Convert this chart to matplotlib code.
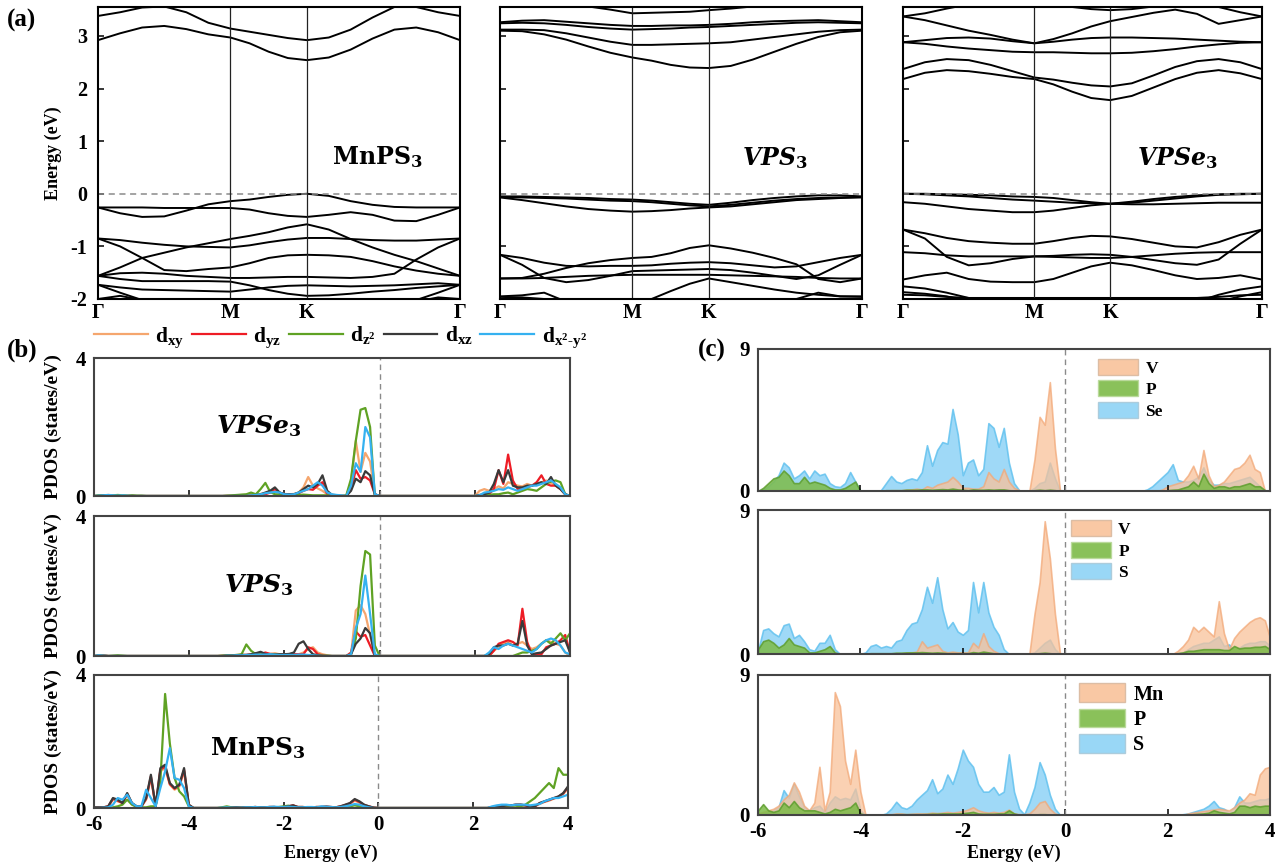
import numpy as np
import matplotlib
matplotlib.use("Agg")
import matplotlib.pyplot as plt
from matplotlib.patches import Patch

plt.rcParams.update({
    "font.family": ["Liberation Serif", "DejaVu Serif"],
    "font.weight": "bold",
    "axes.unicode_minus": False,
    "mathtext.fontset": "custom",
    "mathtext.rm": "DejaVu Serif:bold",
    "mathtext.it": "DejaVu Serif:italic:bold",
    "mathtext.bf": "Liberation Serif:bold",
})

# ---------------- band structures (a) ----------------
KPATH_LABELS = ["Γ", "M", "K", "Γ"]
SEG_LEN = [0.577, 0.333, 0.667]      # Γ-M, M-K, K-Γ lengths
SEG_N = [6, 4, 7]                    # sampling intervals per segment

MNPS3_BANDS = [
    [3.38, 3.45, 3.54, 3.56, 3.45, 3.25, 3.14, 3.08, 3.02, 2.96, 2.92, 2.97, 3.12, 3.35, 3.55, 3.55, 3.45, 3.38],
    [2.92, 3.05, 3.16, 3.19, 3.13, 3.03, 2.97, 2.86, 2.70, 2.58, 2.54, 2.59, 2.74, 2.95, 3.12, 3.16, 3.07, 2.92],
    [-0.26, -0.37, -0.44, -0.43, -0.32, -0.20, -0.14, -0.11, -0.06, -0.02, 0.00, -0.04, -0.14, -0.21, -0.25, -0.26, -0.26, -0.26],
    [-0.26, -0.26, -0.26, -0.27, -0.27, -0.27, -0.27, -0.30, -0.37, -0.42, -0.44, -0.40, -0.35, -0.40, -0.51, -0.52, -0.40, -0.26],
    [-1.56, -1.40, -1.22, -1.12, -1.02, -0.94, -0.86, -0.80, -0.73, -0.64, -0.58, -0.68, -0.86, -1.02, -1.16, -1.28, -1.42, -1.56],
    [-0.85, -0.88, -0.93, -0.97, -1.00, -1.01, -1.02, -0.98, -0.92, -0.87, -0.84, -0.84, -0.86, -0.88, -0.89, -0.89, -0.87, -0.85],
    [-0.85, -1.00, -1.22, -1.45, -1.47, -1.43, -1.40, -1.32, -1.22, -1.17, -1.16, -1.17, -1.20, -1.28, -1.38, -1.46, -1.52, -1.56],
    [-1.56, -1.51, -1.50, -1.52, -1.56, -1.58, -1.60, -1.60, -1.59, -1.58, -1.58, -1.59, -1.60, -1.58, -1.52, -1.25, -1.02, -0.85],
    [-1.56, -1.62, -1.66, -1.66, -1.66, -1.66, -1.67, -1.74, -1.83, -1.90, -1.94, -1.93, -1.90, -1.86, -1.83, -1.79, -1.76, -1.73],
    [-1.73, -1.78, -1.82, -1.83, -1.84, -1.85, -1.86, -1.82, -1.78, -1.75, -1.74, -1.75, -1.76, -1.75, -1.74, -1.72, -1.70, -1.73],
    [-1.73, -1.88, -2.02, -2.10, -2.10, -2.10, -2.10, -2.10, -2.10, -2.10, -2.10, -2.10, -2.10, -2.10, -2.10, -2.02, -1.88, -1.73],
    [-2.00, -1.94, -2.02, -2.10, -2.10, -2.10, -2.10, -2.10, -2.10, -2.10, -2.10, -2.10, -2.10, -2.10, -2.10, -2.05, -1.97, -2.00],
]

VPS3_BANDS = [
    [3.60, 3.60, 3.60, 3.60, 3.56, 3.50, 3.43, 3.44, 3.45, 3.46, 3.49, 3.52, 3.56, 3.60, 3.60, 3.60, 3.60, 3.60],
    [3.26, 3.29, 3.30, 3.27, 3.24, 3.21, 3.19, 3.19, 3.20, 3.20, 3.21, 3.23, 3.26, 3.28, 3.29, 3.30, 3.28, 3.26],
    [3.24, 3.25, 3.24, 3.21, 3.17, 3.14, 3.12, 3.13, 3.14, 3.16, 3.17, 3.19, 3.21, 3.23, 3.25, 3.26, 3.25, 3.24],
    [3.12, 3.12, 3.11, 3.05, 2.97, 2.89, 2.83, 2.83, 2.84, 2.85, 2.86, 2.88, 2.93, 2.98, 3.03, 3.08, 3.11, 3.12],
    [3.10, 3.09, 3.03, 2.93, 2.80, 2.68, 2.59, 2.53, 2.45, 2.40, 2.39, 2.43, 2.55, 2.70, 2.85, 2.98, 3.07, 3.10],
    [-0.05, -0.05, -0.06, -0.07, -0.08, -0.10, -0.11, -0.13, -0.16, -0.19, -0.21, -0.17, -0.12, -0.08, -0.05, -0.03, -0.03, -0.05],
    [-0.06, -0.07, -0.08, -0.09, -0.11, -0.13, -0.14, -0.16, -0.19, -0.22, -0.24, -0.21, -0.17, -0.13, -0.10, -0.08, -0.07, -0.06],
    [-0.07, -0.12, -0.18, -0.24, -0.29, -0.32, -0.34, -0.33, -0.31, -0.28, -0.26, -0.24, -0.20, -0.16, -0.12, -0.10, -0.08, -0.07],
    [-1.61, -1.61, -1.60, -1.58, -1.56, -1.55, -1.54, -1.54, -1.54, -1.54, -1.54, -1.55, -1.56, -1.57, -1.58, -1.60, -1.61, -1.61],
    [-1.61, -1.60, -1.52, -1.41, -1.32, -1.26, -1.22, -1.20, -1.13, -1.03, -0.98, -1.04, -1.12, -1.22, -1.34, -1.62, -1.68, -1.61],
    [-1.16, -1.35, -1.60, -1.68, -1.64, -1.56, -1.47, -1.46, -1.45, -1.44, -1.43, -1.45, -1.50, -1.56, -1.62, -1.55, -1.35, -1.16],
    [-1.16, -1.22, -1.31, -1.37, -1.38, -1.37, -1.37, -1.36, -1.33, -1.31, -1.30, -1.32, -1.36, -1.40, -1.38, -1.30, -1.22, -1.16],
    [-1.95, -1.93, -1.88, -2.05, -2.20, -2.30, -2.20, -2.00, -1.85, -1.71, -1.61, -1.68, -1.75, -1.82, -1.88, -1.92, -1.95, -1.95],
    [-1.96, -1.97, -2.00, -2.10, -2.20, -2.20, -2.20, -2.20, -2.20, -2.20, -2.20, -2.20, -2.20, -2.10, -2.00, -1.88, -1.95, -1.96],
]

VPSE3_BANDS = [
    [3.37, 3.43, 3.52, 3.60, 3.60, 3.60, 3.60, 3.60, 3.55, 3.51, 3.49, 3.51, 3.56, 3.60, 3.60, 3.55, 3.45, 3.37],
    [3.37, 3.30, 3.20, 3.10, 3.02, 2.93, 2.86, 2.94, 3.05, 3.18, 3.28, 3.36, 3.44, 3.50, 3.42, 3.23, 3.30, 3.37],
    [2.88, 2.92, 2.96, 2.97, 2.95, 2.90, 2.86, 2.89, 2.93, 2.96, 2.97, 2.97, 2.96, 2.95, 2.93, 2.91, 2.89, 2.88],
    [2.88, 2.85, 2.80, 2.76, 2.73, 2.70, 2.69, 2.69, 2.68, 2.67, 2.67, 2.68, 2.71, 2.75, 2.80, 2.84, 2.87, 2.88],
    [2.37, 2.50, 2.56, 2.54, 2.45, 2.33, 2.21, 2.17, 2.11, 2.06, 2.04, 2.10, 2.25, 2.41, 2.52, 2.56, 2.50, 2.37],
    [2.18, 2.30, 2.35, 2.33, 2.28, 2.22, 2.18, 2.08, 1.94, 1.82, 1.78, 1.86, 2.02, 2.18, 2.30, 2.35, 2.29, 2.18],
    [0.00, 0.00, -0.01, -0.02, -0.03, -0.05, -0.06, -0.08, -0.12, -0.16, -0.19, -0.15, -0.10, -0.06, -0.03, -0.01, 0.00, 0.00],
    [0.00, -0.01, -0.03, -0.05, -0.08, -0.11, -0.13, -0.15, -0.17, -0.18, -0.19, -0.17, -0.13, -0.09, -0.05, -0.02, -0.01, 0.00],
    [-0.16, -0.19, -0.24, -0.29, -0.32, -0.35, -0.35, -0.32, -0.27, -0.22, -0.19, -0.20, -0.20, -0.19, -0.18, -0.17, -0.17, -0.17],
    [-0.68, -0.75, -0.84, -0.90, -0.93, -0.95, -0.95, -0.90, -0.84, -0.80, -0.81, -0.86, -0.93, -1.00, -1.02, -0.92, -0.78, -0.68],
    [-0.68, -0.85, -1.20, -1.36, -1.32, -1.24, -1.19, -1.18, -1.16, -1.15, -1.16, -1.20, -1.26, -1.32, -1.35, -1.25, -0.95, -0.68],
    [-1.11, -1.13, -1.17, -1.19, -1.19, -1.19, -1.19, -1.20, -1.21, -1.22, -1.22, -1.20, -1.17, -1.14, -1.12, -1.11, -1.11, -1.11],
    [-1.63, -1.55, -1.50, -1.62, -1.67, -1.68, -1.68, -1.62, -1.50, -1.38, -1.31, -1.36, -1.45, -1.55, -1.62, -1.60, -1.55, -1.63],
    [-1.76, -1.80, -1.88, -1.98, -2.10, -2.10, -2.10, -2.10, -2.10, -2.10, -2.10, -2.10, -2.10, -2.10, -2.05, -1.92, -1.82, -1.76],
    [-1.87, -1.90, -1.95, -2.05, -2.10, -2.10, -2.10, -2.10, -2.10, -2.10, -2.10, -2.10, -2.10, -2.10, -2.10, -2.05, -1.95, -1.87],
    [-1.92, -1.93, -1.96, -1.98, -1.98, -1.98, -1.98, -1.98, -1.98, -1.98, -1.98, -1.98, -1.98, -1.98, -1.98, -1.96, -1.93, -1.92],
]

# ---------------- PDOS (b): V / Mn d orbitals, energy -6..4 eV step 0.1 ----------------
B1_DXY = [0.00, 0.01, 0.02, 0.03, 0.02, 0.01, 0.02, 0.01, 0.01, 0.00,
          0, 0, 0, 0, 0, 0, 0, 0, 0, 0,
          0, 0, 0, 0, 0, 0, 0, 0, 0.01, 0.01,
          0.02, 0.03, 0.03, 0.05, 0.04, 0.06, 0.08, 0.10, 0.12, 0.08,
          0.06, 0.05, 0.06, 0.10, 0.25, 0.55, 0.30, 0.22, 0.15, 0.05,
          0.04, 0.02, 0.01, 0.00, 0.40, 1.60, 0.70, 1.25, 1.00, 0.05,
          0, 0, 0, 0, 0, 0, 0, 0, 0, 0,
          0, 0, 0, 0, 0, 0, 0, 0, 0, 0,
          0.00, 0.15, 0.20, 0.15, 0.20, 0.28, 0.22, 0.40, 0.35, 0.30,
          0.28, 0.35, 0.30, 0.35, 0.40, 0.45, 0.38, 0.30, 0.20, 0.05,
          0.00]
B1_DYZ = [0.00, 0.00, 0.01, 0.02, 0.01, 0, 0, 0, 0, 0,
          0, 0, 0, 0, 0, 0, 0, 0, 0, 0,
          0, 0, 0, 0, 0, 0, 0, 0, 0, 0,
          0.00, 0.00, 0.00, 0.01, 0.02, 0.03, 0.05, 0.10, 0.20, 0.10,
          0.05, 0.05, 0.05, 0.08, 0.15, 0.20, 0.18, 0.30, 0.40, 0.05,
          0.02, 0.00, 0.00, 0.00, 0.20, 0.75, 0.50, 0.55, 0.45, 0.05,
          0, 0, 0, 0, 0, 0, 0, 0, 0, 0,
          0, 0, 0, 0, 0, 0, 0, 0, 0, 0,
          0.00, 0.00, 0.03, 0.05, 0.20, 0.75, 0.35, 1.20, 0.45, 0.20,
          0.20, 0.25, 0.30, 0.40, 0.60, 0.35, 0.30, 0.30, 0.20, 0.05,
          0.00]
B1_DZ2 = [0.00, 0.02, 0.02, 0.01, 0.02, 0.03, 0.02, 0.01, 0.02, 0.01,
          0.01, 0, 0, 0, 0, 0, 0, 0, 0, 0,
          0, 0, 0, 0, 0, 0, 0, 0, 0.01, 0.02,
          0.03, 0.04, 0.05, 0.10, 0.05, 0.20, 0.38, 0.12, 0.05, 0.04,
          0.03, 0.02, 0.02, 0.03, 0.04, 0.03, 0.02, 0.02, 0.02, 0.02,
          0.01, 0.00, 0.00, 0.02, 0.50, 1.60, 2.50, 2.55, 2.00, 0.00,
          0, 0, 0, 0, 0, 0, 0, 0, 0, 0,
          0, 0, 0, 0, 0, 0, 0, 0, 0, 0,
          0.00, 0.00, 0.02, 0.03, 0.05, 0.05, 0.08, 0.10, 0.05, 0.10,
          0.15, 0.20, 0.18, 0.15, 0.25, 0.35, 0.42, 0.45, 0.40, 0.05,
          0.00]
B1_DXZ = [0.00, 0.00, 0.01, 0.01, 0, 0, 0, 0, 0, 0,
          0, 0, 0, 0, 0, 0, 0, 0, 0, 0,
          0, 0, 0, 0, 0, 0, 0, 0, 0, 0,
          0.00, 0.00, 0.00, 0.00, 0.02, 0.05, 0.10, 0.15, 0.25, 0.10,
          0.05, 0.05, 0.05, 0.10, 0.20, 0.30, 0.25, 0.35, 0.60, 0.15,
          0.03, 0.00, 0.00, 0.00, 0.15, 0.50, 0.40, 0.72, 0.60, 0.05,
          0, 0, 0, 0, 0, 0, 0, 0, 0, 0,
          0, 0, 0, 0, 0, 0, 0, 0, 0, 0,
          0.00, 0.03, 0.05, 0.10, 0.35, 0.75, 0.40, 0.75, 0.30, 0.25,
          0.25, 0.30, 0.30, 0.35, 0.40, 0.35, 0.55, 0.30, 0.20, 0.05,
          0.00]
B1_DX2Y2 = [0.00, 0.01, 0.02, 0.03, 0.02, 0.01, 0.02, 0.01, 0.00, 0.00,
            0, 0, 0, 0, 0, 0, 0, 0, 0, 0,
            0, 0, 0, 0, 0, 0, 0, 0, 0, 0,
            0.00, 0.00, 0.00, 0.02, 0.03, 0.05, 0.08, 0.10, 0.12, 0.10,
            0.05, 0.04, 0.05, 0.10, 0.15, 0.20, 0.30, 0.40, 0.30, 0.10,
            0.05, 0.03, 0.02, 0.00, 0.30, 0.95, 0.70, 2.00, 1.70, 0.05,
            0, 0, 0, 0, 0, 0, 0, 0, 0, 0,
            0, 0, 0, 0, 0, 0, 0, 0, 0, 0,
            0.00, 0.02, 0.10, 0.12, 0.15, 0.20, 0.18, 0.25, 0.20, 0.15,
            0.20, 0.25, 0.30, 0.30, 0.35, 0.40, 0.45, 0.35, 0.25, 0.05,
            0.00]

B2_DXY = [0.00, 0.01, 0.01, 0.00, 0.00, 0.00, 0.00, 0.00, 0.00, 0.00,
          0, 0, 0, 0, 0, 0, 0, 0, 0, 0,
          0, 0, 0, 0, 0, 0, 0, 0.02, 0.02, 0.02,
          0.03, 0.03, 0.03, 0.04, 0.05, 0.05, 0.05, 0.06, 0.08, 0.05,
          0.05, 0.05, 0.05, 0.05, 0.10, 0.20, 0.25, 0.10, 0.05, 0.02,
          0.00, 0.00, 0.00, 0.00, 0.05, 1.30, 1.45, 1.20, 0.60, 0.00,
          0, 0, 0, 0, 0, 0, 0, 0, 0, 0,
          0, 0, 0, 0, 0, 0, 0, 0, 0, 0,
          0.00, 0.00, 0.00, 0.02, 0.15, 0.25, 0.35, 0.40, 0.30, 0.35,
          0.40, 0.30, 0.20, 0.25, 0.35, 0.45, 0.40, 0.35, 0.30, 0.10,
          0.00]
B2_DYZ = [0.00, 0.01, 0.02, 0.00, 0, 0, 0, 0, 0, 0,
          0, 0, 0, 0, 0, 0, 0, 0, 0, 0,
          0, 0, 0, 0, 0, 0, 0, 0, 0.01, 0.02,
          0.02, 0.03, 0.03, 0.04, 0.08, 0.05, 0.10, 0.06, 0.05, 0.05,
          0.05, 0.05, 0.05, 0.05, 0.05, 0.25, 0.20, 0.05, 0.02, 0.00,
          0.00, 0.00, 0.00, 0.00, 0.10, 0.70, 0.55, 0.60, 0.30, 0.00,
          0, 0, 0, 0, 0, 0, 0, 0, 0, 0,
          0, 0, 0, 0, 0, 0, 0, 0, 0, 0,
          0.00, 0.00, 0.00, 0.00, 0.15, 0.35, 0.40, 0.45, 0.40, 0.30,
          1.35, 0.40, 0.05, 0.05, 0.05, 0.25, 0.30, 0.35, 0.45, 0.60,
          0.10]
B2_DZ2 = [0.00, 0.01, 0.01, 0.00, 0.01, 0.02, 0.01, 0.00, 0.00, 0.00,
          0, 0, 0, 0, 0, 0, 0, 0, 0, 0,
          0, 0, 0, 0, 0, 0, 0, 0.01, 0.02, 0.02,
          0.03, 0.05, 0.33, 0.15, 0.05, 0.05, 0.05, 0.05, 0.05, 0.04,
          0.03, 0.03, 0.02, 0.02, 0.02, 0.02, 0.02, 0.02, 0.01, 0.01,
          0.00, 0.00, 0.00, 0.00, 0.05, 0.50, 2.00, 3.00, 2.90, 0.30,
          0, 0, 0, 0, 0, 0, 0, 0, 0, 0,
          0, 0, 0, 0, 0, 0, 0, 0, 0, 0,
          0.00, 0.00, 0.00, 0.00, 0.00, 0.00, 0.00, 0.00, 0.00, 0.05,
          0.10, 0.10, 0.15, 0.20, 0.35, 0.45, 0.35, 0.50, 0.65, 0.45,
          0.65]
B2_DXZ = [0.00, 0.01, 0.00, 0, 0, 0, 0, 0, 0, 0,
          0, 0, 0, 0, 0, 0, 0, 0, 0, 0,
          0, 0, 0, 0, 0, 0, 0, 0, 0.01, 0.01,
          0.02, 0.03, 0.03, 0.05, 0.08, 0.12, 0.06, 0.04, 0.04, 0.05,
          0.05, 0.06, 0.10, 0.35, 0.42, 0.20, 0.05, 0.02, 0.00, 0.00,
          0.00, 0.00, 0.00, 0.00, 0.05, 0.35, 0.50, 0.80, 0.65, 0.00,
          0, 0, 0, 0, 0, 0, 0, 0, 0, 0,
          0, 0, 0, 0, 0, 0, 0, 0, 0, 0,
          0.00, 0.00, 0.00, 0.05, 0.25, 0.30, 0.30, 0.35, 0.30, 0.35,
          1.00, 0.30, 0.05, 0.08, 0.10, 0.20, 0.30, 0.35, 0.40, 0.45,
          0.10]
B2_DX2Y2 = [0.00, 0.02, 0.01, 0.00, 0, 0, 0, 0, 0, 0,
            0, 0, 0, 0, 0, 0, 0, 0, 0, 0,
            0, 0, 0, 0, 0, 0, 0, 0, 0.01, 0.01,
            0.02, 0.02, 0.03, 0.03, 0.04, 0.04, 0.04, 0.05, 0.04, 0.03,
            0.03, 0.03, 0.03, 0.04, 0.04, 0.03, 0.02, 0.01, 0.00, 0.00,
            0.00, 0.00, 0.00, 0.00, 0.05, 0.80, 1.20, 2.30, 1.20, 0.05,
            0, 0, 0, 0, 0, 0, 0, 0, 0, 0,
            0, 0, 0, 0, 0, 0, 0, 0, 0, 0,
            0.00, 0.00, 0.00, 0.10, 0.25, 0.20, 0.30, 0.35, 0.30, 0.25,
            0.20, 0.15, 0.10, 0.20, 0.35, 0.45, 0.50, 0.45, 0.30, 0.10,
            0.05]

B3_DXY = [0.01, 0.01, 0.02, 0.04, 0.25, 0.20, 0.15, 0.40, 0.12, 0.04,
          0.04, 0.25, 0.90, 0.05, 1.10, 1.20, 0.70, 0.55, 0.65, 1.10,
          0.08, 0, 0, 0, 0, 0, 0, 0, 0, 0.01,
          0.02, 0.01, 0.02, 0.02, 0.03, 0.02, 0.02, 0.03, 0.03, 0.02,
          0.03, 0.05, 0.07, 0.03, 0.03, 0.02, 0.02, 0.03, 0.03, 0.04,
          0.02, 0.02, 0.04, 0.08, 0.12, 0.22, 0.16, 0.08, 0.04, 0.01,
          0, 0, 0, 0, 0, 0, 0, 0, 0, 0,
          0, 0, 0, 0, 0, 0, 0, 0, 0, 0,
          0, 0, 0, 0, 0.02, 0.03, 0.05, 0.07, 0.08, 0.09,
          0.10, 0.08, 0.05, 0.05, 0.12, 0.18, 0.22, 0.28, 0.33, 0.42,
          0.60]
B3_DYZ = [0.01, 0.01, 0.02, 0.05, 0.28, 0.22, 0.15, 0.42, 0.14, 0.05,
          0.05, 0.28, 0.95, 0.05, 1.15, 1.25, 0.72, 0.58, 0.68, 1.15,
          0.09, 0, 0, 0, 0, 0, 0, 0, 0, 0.01,
          0.02, 0.01, 0.02, 0.02, 0.03, 0.02, 0.02, 0.03, 0.03, 0.02,
          0.03, 0.05, 0.08, 0.03, 0.03, 0.02, 0.02, 0.03, 0.03, 0.04,
          0.03, 0.02, 0.05, 0.09, 0.14, 0.25, 0.18, 0.09, 0.05, 0.01,
          0, 0, 0, 0, 0, 0, 0, 0, 0, 0,
          0, 0, 0, 0, 0, 0, 0, 0, 0, 0,
          0, 0, 0, 0, 0.02, 0.03, 0.05, 0.08, 0.08, 0.10,
          0.10, 0.08, 0.05, 0.05, 0.14, 0.19, 0.24, 0.29, 0.34, 0.44,
          0.62]
B3_DZ2 = [0.00, 0.00, 0.00, 0.00, 0.02, 0.05, 0.10, 0.25, 0.10, 0.03,
          0.02, 0.02, 0.05, 0.05, 0.80, 3.43, 1.94, 0.90, 0.50, 0.35,
          0.05, 0, 0, 0, 0, 0, 0, 0.02, 0.05, 0.02,
          0.01, 0.01, 0.01, 0.02, 0.02, 0.01, 0.01, 0.02, 0.02, 0.03,
          0.05, 0.07, 0.04, 0.02, 0.02, 0.02, 0.02, 0.02, 0.02, 0.01,
          0.01, 0.01, 0.02, 0.03, 0.05, 0.08, 0.05, 0.02, 0.01, 0.00,
          0, 0, 0, 0, 0, 0, 0, 0, 0, 0,
          0, 0, 0, 0, 0, 0, 0, 0, 0, 0,
          0, 0, 0, 0, 0, 0, 0.01, 0.02, 0.02, 0.02,
          0.05, 0.10, 0.20, 0.30, 0.45, 0.60, 0.75, 0.60, 1.20, 1.00,
          1.00]
B3_DXZ = [0.02, 0.02, 0.02, 0.05, 0.30, 0.25, 0.15, 0.45, 0.15, 0.05,
          0.05, 0.30, 1.00, 0.05, 1.20, 1.30, 0.75, 0.60, 0.70, 1.20,
          0.10, 0, 0, 0, 0, 0, 0, 0, 0, 0.01,
          0.02, 0.01, 0.02, 0.02, 0.03, 0.02, 0.02, 0.03, 0.03, 0.02,
          0.03, 0.05, 0.08, 0.03, 0.03, 0.02, 0.02, 0.03, 0.03, 0.04,
          0.03, 0.02, 0.05, 0.10, 0.15, 0.27, 0.20, 0.10, 0.05, 0.01,
          0, 0, 0, 0, 0, 0, 0, 0, 0, 0,
          0, 0, 0, 0, 0, 0, 0, 0, 0, 0,
          0, 0, 0, 0, 0.02, 0.03, 0.05, 0.08, 0.08, 0.10,
          0.10, 0.08, 0.05, 0.05, 0.15, 0.20, 0.25, 0.30, 0.35, 0.45,
          0.65]
B3_DX2Y2 = [0.00, 0.00, 0.01, 0.02, 0.10, 0.30, 0.25, 0.40, 0.15, 0.05,
            0.05, 0.55, 0.30, 0.05, 0.60, 1.10, 1.80, 0.90, 0.85, 0.60,
            0.05, 0, 0, 0, 0, 0, 0, 0.01, 0.02, 0.01,
            0.01, 0.01, 0.02, 0.02, 0.03, 0.02, 0.02, 0.03, 0.04, 0.03,
            0.03, 0.04, 0.03, 0.02, 0.02, 0.03, 0.03, 0.02, 0.05, 0.04,
            0.03, 0.02, 0.03, 0.05, 0.08, 0.12, 0.10, 0.05, 0.02, 0.00,
            0, 0, 0, 0, 0, 0, 0, 0, 0, 0,
            0, 0, 0, 0, 0, 0, 0, 0, 0, 0,
            0, 0, 0, 0, 0.05, 0.08, 0.10, 0.10, 0.08, 0.10,
            0.10, 0.10, 0.08, 0.10, 0.12, 0.20, 0.25, 0.30, 0.30, 0.35,
            0.40]

# ---------------- PDOS (c): element projected ----------------
C1_METAL = [0.00, 0.02, 0.05, 0.05, 0.05, 0.08, 0.08, 0.05, 0.05, 0.05,
            0.05, 0.05, 0.05, 0.05, 0.03, 0.02, 0.02, 0.03, 0.05, 0.03,
            0.00, 0.00, 0.00, 0.00, 0.00, 0.02, 0.05, 0.05, 0.05, 0.08,
            0.10, 0.15, 0.10, 0.30, 0.20, 0.40, 0.50, 0.60, 0.90, 0.60,
            0.20, 0.20, 0.15, 0.15, 0.30, 1.20, 0.80, 0.60, 1.40, 0.60,
            0.20, 0.05, 0.00, 0.00, 2.00, 4.70, 4.20, 6.90, 2.70, 0.00,
            0, 0, 0, 0, 0, 0, 0, 0, 0, 0,
            0, 0, 0, 0, 0, 0, 0, 0, 0, 0.10,
            0.30, 0.40, 0.50, 0.60, 1.00, 1.60, 0.80, 2.60, 1.00, 0.30,
            0.40, 0.60, 1.00, 1.40, 1.50, 1.80, 2.30, 1.40, 1.20, 0.00,
            0.00]
C1_P = [0.00, 0.20, 0.50, 0.80, 0.90, 1.30, 1.00, 0.50, 0.50, 0.90,
        0.50, 0.60, 0.50, 0.40, 0.20, 0.10, 0.10, 0.20, 0.40, 0.60,
        0.00, 0.00, 0.00, 0.00, 0.00, 0.05, 0.05, 0.05, 0.05, 0.08,
        0.08, 0.08, 0.10, 0.10, 0.08, 0.10, 0.12, 0.10, 0.15, 0.10,
        0.08, 0.05, 0.10, 0.08, 0.08, 0.10, 0.08, 0.10, 0.10, 0.05,
        0.03, 0.00, 0.00, 0.00, 0.05, 0.08, 0.05, 0.08, 0.05, 0.00,
        0, 0, 0, 0, 0, 0, 0, 0, 0, 0,
        0, 0, 0, 0, 0, 0, 0, 0, 0, 0,
        0.05, 0.08, 0.10, 0.20, 0.30, 0.60, 0.30, 1.10, 0.50, 0.20,
        0.30, 0.30, 0.20, 0.30, 0.30, 0.40, 0.50, 0.30, 0.30, 0.05,
        0.00]
C1_CHALC = [0.00, 0.10, 0.30, 0.60, 1.00, 1.80, 1.50, 0.80, 1.00, 1.30,
            0.80, 1.30, 1.00, 1.10, 0.50, 0.30, 0.25, 0.50, 1.20, 0.60,
            0.00, 0.00, 0.00, 0.00, 0.05, 0.50, 0.95, 0.60, 0.50, 0.70,
            0.80, 0.70, 1.20, 2.90, 1.60, 2.60, 3.10, 3.00, 5.20, 3.60,
            1.00, 1.80, 2.00, 1.00, 1.40, 4.30, 4.00, 2.80, 4.00, 1.80,
            0.50, 0.05, 0.00, 0.00, 0.20, 0.50, 0.60, 1.80, 0.80, 0.00,
            0, 0, 0, 0, 0, 0, 0, 0, 0, 0,
            0, 0, 0, 0, 0, 0, 0.10, 0.30, 0.60, 0.90,
            1.20, 1.70, 0.70, 0.60, 0.60, 0.70, 0.90, 1.50, 0.70, 0.40,
            0.40, 0.50, 0.50, 0.60, 0.70, 0.80, 0.90, 0.60, 0.30, 0.05,
            0.00]

C2_METAL = [0.05, 0.05, 0.05, 0.03, 0.03, 0.05, 0.05, 0.03, 0.03, 0.03,
            0.02, 0.02, 0.02, 0.02, 0.02, 0.00, 0.00, 0.00, 0.00, 0.00,
            0.00, 0.00, 0.02, 0.02, 0.02, 0.02, 0.03, 0.05, 0.05, 0.08,
            0.10, 0.15, 0.80, 0.40, 0.50, 0.60, 0.20, 0.10, 0.15, 0.10,
            0.10, 0.10, 0.70, 0.40, 1.30, 0.50, 0.20, 0.05, 0.02, 0.00,
            0.00, 0.00, 0.00, 0.00, 2.50, 4.50, 8.30, 6.00, 2.50, 0.00,
            0, 0, 0, 0, 0, 0, 0, 0, 0, 0,
            0, 0, 0, 0, 0, 0, 0, 0, 0, 0,
            0.00, 0.00, 0.20, 0.50, 0.90, 1.70, 1.40, 1.70, 1.40, 1.10,
            3.30, 1.30, 0.30, 1.00, 1.40, 1.70, 2.00, 2.20, 2.30, 2.10,
            1.00]
C2_P = [0.30, 0.80, 0.90, 0.70, 0.40, 0.60, 1.00, 0.60, 0.50, 0.40,
        0.10, 0.10, 0.20, 0.30, 0.50, 0.10, 0.00, 0.00, 0.00, 0.00,
        0.00, 0.02, 0.05, 0.05, 0.05, 0.05, 0.05, 0.08, 0.08, 0.10,
        0.10, 0.10, 0.12, 0.10, 0.08, 0.10, 0.08, 0.05, 0.05, 0.05,
        0.05, 0.05, 0.12, 0.08, 0.15, 0.10, 0.05, 0.03, 0.02, 0.00,
        0.00, 0.00, 0.00, 0.00, 0.03, 0.05, 0.08, 0.05, 0.02, 0.00,
        0, 0, 0, 0, 0, 0, 0, 0, 0, 0,
        0, 0, 0, 0, 0, 0, 0, 0, 0, 0,
        0.00, 0.00, 0.05, 0.10, 0.20, 0.20, 0.25, 0.30, 0.30, 0.30,
        0.30, 0.25, 0.25, 0.50, 0.35, 0.40, 0.40, 0.45, 0.45, 0.50,
        0.30]
C2_CHALC = [0.20, 1.50, 1.60, 1.30, 1.10, 1.80, 1.90, 1.00, 1.20, 0.80,
            0.30, 0.20, 0.70, 0.70, 1.20, 0.30, 0.00, 0.00, 0.00, 0.00,
            0.00, 0.10, 0.50, 0.60, 0.40, 0.50, 0.40, 0.80, 0.90, 1.50,
            1.90, 2.00, 2.80, 4.20, 3.20, 4.80, 2.80, 1.60, 2.00, 1.40,
            1.20, 1.50, 4.50, 2.60, 4.50, 2.60, 1.70, 1.20, 0.30, 0.00,
            0.00, 0.00, 0.00, 0.00, 0.10, 0.40, 0.70, 0.90, 0.30, 0.00,
            0, 0, 0, 0, 0, 0, 0, 0, 0, 0,
            0, 0, 0, 0, 0, 0, 0, 0, 0, 0,
            0.00, 0.00, 0.05, 0.10, 0.30, 0.50, 0.60, 0.70, 0.70, 0.90,
            1.10, 0.50, 0.60, 0.20, 0.40, 0.60, 0.70, 0.70, 0.80, 0.80,
            0.50]

C3_METAL = [0.10, 0.20, 0.30, 0.40, 0.60, 1.00, 1.30, 2.10, 1.50, 0.60,
            0.30, 0.80, 3.10, 0.30, 1.50, 7.90, 7.00, 3.50, 2.00, 4.20,
            1.50, 0.00, 0.00, 0.00, 0.00, 0.05, 0.05, 0.10, 0.10, 0.05,
            0.08, 0.10, 0.10, 0.10, 0.15, 0.12, 0.15, 0.20, 0.15, 0.20,
            0.25, 0.35, 0.50, 0.30, 0.20, 0.15, 0.20, 0.15, 0.20, 0.35,
            0.10, 0.05, 0.05, 0.10, 0.40, 0.80, 0.90, 0.40, 0.10, 0.00,
            0, 0, 0, 0, 0, 0, 0, 0, 0, 0,
            0, 0, 0, 0, 0, 0, 0, 0, 0, 0,
            0, 0, 0, 0, 0.10, 0.15, 0.20, 0.25, 0.30, 0.35,
            0.40, 0.35, 0.30, 0.50, 0.80, 1.00, 1.40, 1.30, 2.60, 3.00,
            3.10]
C3_P = [0.30, 0.70, 0.30, 0.20, 0.30, 0.80, 0.50, 0.90, 0.50, 0.30,
        0.30, 0.30, 0.20, 0.10, 0.20, 0.40, 0.30, 0.40, 0.50, 0.80,
        0.10, 0.00, 0.00, 0.00, 0.00, 0.02, 0.03, 0.05, 0.05, 0.05,
        0.05, 0.05, 0.05, 0.06, 0.08, 0.08, 0.10, 0.10, 0.10, 0.10,
        0.12, 0.15, 0.20, 0.10, 0.08, 0.08, 0.08, 0.10, 0.10, 0.30,
        0.10, 0.02, 0.00, 0.02, 0.03, 0.05, 0.05, 0.03, 0.02, 0.00,
        0, 0, 0, 0, 0, 0, 0, 0, 0, 0,
        0, 0, 0, 0, 0, 0, 0, 0, 0, 0,
        0, 0, 0, 0, 0, 0.05, 0.08, 0.10, 0.15, 0.30,
        0.20, 0.15, 0.10, 0.20, 0.60, 0.60, 0.50, 0.60, 0.55, 0.60,
        0.60]
C3_CHALC = [0.00, 0.10, 0.20, 0.30, 0.50, 1.60, 1.10, 2.00, 1.20, 0.50,
            0.30, 0.50, 0.60, 0.20, 0.80, 1.20, 1.00, 1.10, 1.00, 1.70,
            0.30, 0.00, 0.00, 0.00, 0.00, 0.10, 0.40, 0.85, 0.50, 0.40,
            0.60, 1.00, 1.30, 1.60, 2.30, 1.40, 1.70, 2.60, 2.00, 3.00,
            4.20, 3.50, 3.10, 2.00, 1.50, 1.50, 1.80, 1.30, 1.50, 3.90,
            1.50, 0.40, 0.05, 0.80, 1.80, 3.40, 2.60, 1.30, 0.40, 0.00,
            0, 0, 0, 0, 0, 0, 0, 0, 0, 0,
            0, 0, 0, 0, 0, 0, 0, 0, 0, 0,
            0.00, 0.00, 0.00, 0.05, 0.10, 0.20, 0.30, 0.40, 0.60, 0.90,
            0.50, 0.40, 0.20, 0.50, 1.20, 0.80, 0.80, 0.90, 1.00, 1.00,
            1.10]

ORBITAL_LABELS = [r"$\mathbf{d_{xy}}$", r"$\mathbf{d_{yz}}$", r"$\mathbf{d_{z^2}}$",
                  r"$\mathbf{d_{xz}}$", "$\\mathbf{d_{x^2\u2010y^2}}$"]
ORBITAL_COLORS = ["#F5A66E", "#EE1C25", "#5FA224", "#3A3A3A", "#35B1F0"]
ELEM_COLORS = {"metal": ("#F9C29A", "#F2A877"), "P": ("#7DBB48", "#5E9E2E"),
               "chalc": ("#8ED3F6", "#63C2EF")}

# ---------------- layout helpers ----------------
W, H = 1281, 867
fig = plt.figure(figsize=(W / 100, H / 100), dpi=100)


def add_ax(l, t, r, b):
    return fig.add_axes([l / W, 1 - b / H, (r - l) / W, (b - t) / H])


# k-path x coordinates
KX = [0.0]
for L, n in zip(SEG_LEN, SEG_N):
    start = KX[-1]
    KX += list(np.linspace(start, start + L, n + 1)[1:])
KX = np.array(KX)
K_TICKS = [KX[0], KX[SEG_N[0]], KX[SEG_N[0] + SEG_N[1]], KX[-1]]

band_panels = [
    ((98, 7, 460, 299), MNPS3_BANDS, r"$\mathrm{MnPS_3}$", (0.773, 0.486)),
    ((500, 7, 862, 299), VPS3_BANDS, r"$\mathit{VPS_3}$", (0.760, 0.483)),
    ((903, 7, 1262, 299), VPSE3_BANDS, r"$\mathit{VPSe_3}$", (0.763, 0.483)),
]
for i, (box, bands, lab, pos) in enumerate(band_panels):
    ax = add_ax(*box)
    for band in bands:
        ax.plot(KX, band, color="black", lw=1.4)
    ax.axhline(0, color="#8a8a8a", lw=1.1, ls=(0, (4, 3)))
    for kv in K_TICKS[1:3]:
        ax.axvline(kv, color="#222222", lw=0.9)
    ax.set_xlim(KX[0], KX[-1])
    ax.set_ylim(-2, 3.55)
    ax.set_xticks(K_TICKS)
    ax.set_xticklabels(KPATH_LABELS, fontsize=14.5, fontweight="bold")
    ax.tick_params(axis="x", length=0, pad=3)
    ax.set_yticks([-2, -1, 0, 1, 2, 3])
    ax.tick_params(axis="y", direction="in", length=4, width=1.1, labelsize=14.5, pad=8)
    for s in ax.spines.values():
        s.set_linewidth(1.5)
    if i == 0:
        ax.set_ylabel("Energy (eV)", fontsize=13, fontweight="bold")
        ax.yaxis.set_label_coords(-0.10, 0.5)
    else:
        ax.set_yticklabels([])
    ax.text(pos[0], pos[1], lab, transform=ax.transAxes, fontsize=17,
            ha="center", va="center")

ENERGY = np.linspace(-6.0, 4.0, 101)

b_panels = [
    ((94, 358, 570, 496), [B1_DXY, B1_DYZ, B1_DZ2, B1_DXZ, B1_DX2Y2], r"$\mathit{VPSe_3}$", 0.51),
    ((94, 516, 570, 656), [B2_DXY, B2_DYZ, B2_DZ2, B2_DXZ, B2_DX2Y2], r"$\mathit{VPS_3}$", 0.51),
    ((94, 675, 568, 808), [B3_DXY, B3_DYZ, B3_DZ2, B3_DXZ, B3_DX2Y2], r"$\mathrm{MnPS_3}$", 0.45),
]
handles = []
for i, (box, curves, lab, ty) in enumerate(b_panels):
    ax = add_ax(*box)
    for c, col, name in zip(curves, ORBITAL_COLORS, ORBITAL_LABELS):
        ln, = ax.plot(ENERGY, c, color=col, lw=1.6)
        if i == 0:
            handles.append(ln)
    ax.axvline(0, color="#8a8a8a", lw=1.0, ls=(0, (4, 3)))
    ax.set_xlim(-6, 4)
    ax.set_ylim(0, 4)
    ax.set_yticks([0, 4])
    ax.set_xticks([-6, -4, -2, 0, 2, 4])
    ax.tick_params(axis="x", direction="in", length=4, width=1.1, labelsize=15, pad=5)
    ax.tick_params(axis="y", length=0, labelsize=15, pad=6)
    for s in ax.spines.values():
        s.set_linewidth(1.5)
        s.set_color("#444444")
    ax.set_ylabel("PDOS (states/eV)", fontsize=14, fontweight="bold")
    ax.yaxis.set_label_coords(-0.068, 0.5)
    ax.text(0.345, ty, lab, transform=ax.transAxes, fontsize=18, ha="center", va="center")
    if i < 2:
        ax.set_xticklabels([])
    else:
        ax.set_xlabel("Energy (eV)", fontsize=13, fontweight="bold")
        ax.xaxis.set_label_coords(0.5, -0.275)

fig.legend(handles, ORBITAL_LABELS, loc="center left",
           bbox_to_anchor=(94 / W, 1 - 337 / H), ncol=5, frameon=False,
           handlelength=2.5, handletextpad=0.35, columnspacing=0.35,
           fontsize=15.5, borderaxespad=0, borderpad=0)

c_panels = [
    ((758, 349, 1270, 491), [C1_CHALC, C1_METAL, C1_P], ["V", "P", "Se"], (0.665, 0.93), 12.5),
    ((758, 510, 1270, 654), [C2_CHALC, C2_METAL, C2_P], ["V", "P", "S"], (0.612, 0.93), 12.5),
    ((758, 675, 1270, 815), [C3_CHALC, C3_METAL, C3_P], ["Mn", "P", "S"], (0.627, 0.94), 14.5),
]
for i, (box, (chal, metal, phos), names, lpos, lfs) in enumerate(c_panels):
    ax = add_ax(*box)
    fc, ec = ELEM_COLORS["chalc"]
    ax.fill_between(ENERGY, 0, chal, facecolor=fc, edgecolor=ec, lw=1.2, alpha=0.85)
    fc, ec = ELEM_COLORS["metal"]
    ax.fill_between(ENERGY, 0, metal, facecolor=fc, edgecolor=ec, lw=1.2, alpha=0.75)
    fc, ec = ELEM_COLORS["P"]
    ax.fill_between(ENERGY, 0, phos, facecolor=fc, edgecolor=ec, lw=1.2, alpha=0.85)
    ax.axvline(0, color="#8a8a8a", lw=1.0, ls=(0, (4, 3)))
    ax.set_xlim(-6, 4)
    ax.set_ylim(0, 9)
    ax.set_yticks([0, 9])
    ax.set_xticks([-6, -4, -2, 0, 2, 4])
    ax.tick_params(axis="x", direction="in", length=4, width=1.1, labelsize=15, pad=5)
    ax.tick_params(axis="y", length=0, labelsize=15, pad=6)
    for s in ax.spines.values():
        s.set_linewidth(1.5)
        s.set_color("#444444")
    leg_handles = [
        Patch(facecolor=ELEM_COLORS["metal"][0], edgecolor="#D9B9A0", alpha=0.9),
        Patch(facecolor=ELEM_COLORS["P"][0], edgecolor="#B9D99A", alpha=0.9),
        Patch(facecolor=ELEM_COLORS["chalc"][0], edgecolor="#A9C9D9", alpha=0.9),
    ]
    ax.legend(leg_handles, names, loc="upper left", bbox_to_anchor=lpos,
              frameon=False, fontsize=lfs, handlelength=2.3, handleheight=1.05,
              labelspacing=0.2, handletextpad=0.4, borderpad=0, borderaxespad=0)
    if i < 2:
        ax.set_xticklabels([])
    else:
        ax.set_xlabel("Energy (eV)", fontsize=13, fontweight="bold")
        ax.xaxis.set_label_coords(0.5, -0.215)

fig.text(21 / W, 1 - 20 / H, "(a)", fontsize=18, fontweight="bold", ha="center", va="center")
fig.text(22 / W, 1 - 350 / H, "(b)", fontsize=18, fontweight="bold", ha="center", va="center")
fig.text(712 / W, 1 - 350 / H, "(c)", fontsize=18, fontweight="bold", ha="center", va="center")

fig.savefig("out.png", dpi=100)
